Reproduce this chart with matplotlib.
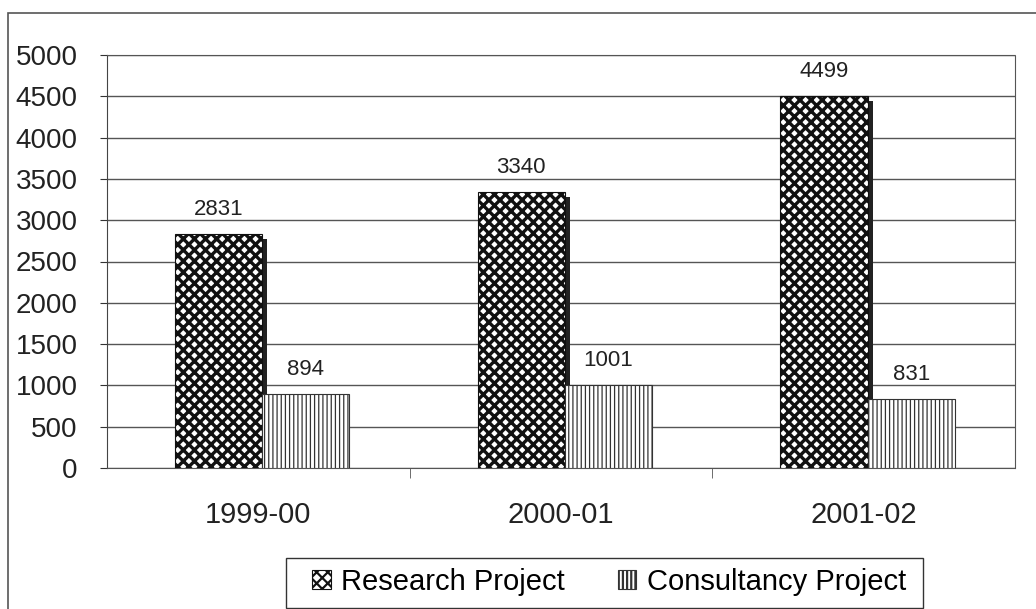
import numpy as np
import matplotlib as mpl
import matplotlib.pyplot as plt
from matplotlib.patches import Rectangle

plt.rcParams['font.family'] = ['Liberation Sans', 'DejaVu Sans']

years = ["1999-00", "2000-01", "2001-02"]
research = [2831, 3340, 4499]
consultancy = [894, 1001, 831]
series_names = ["Research Project", "Consultancy Project"]

fig = plt.figure(figsize=(10.36, 6.09), dpi=100)
ax = fig.add_axes([107 / 1036, 1 - 468 / 609, 908 / 1036, 413 / 609])

# outer chart frame (runs off right/bottom edge like the scan)
fig.patches.append(Rectangle((8 / 1036, -0.05), 1.2, 1 - 13 / 609 + 0.05,
                             transform=fig.transFigure, fill=False,
                             edgecolor='#555555', lw=1.2))

x = np.arange(len(years))
w = 0.288
shift = 0.013

# 3D-ish shadow on research bars
ax.bar(x + shift + 0.008, np.array(research) - 60, width=0.017, bottom=0,
       color='#222222', zorder=2)
with mpl.rc_context({'hatch.linewidth': 2.4}):
    b1 = ax.bar(x - w / 2 + shift, research, width=w, facecolor='white',
                edgecolor='#111111', hatch='xxx', lw=0.8, zorder=3,
                label=series_names[0])
with mpl.rc_context({'hatch.linewidth': 0.9}):
    b2 = ax.bar(x + w / 2 + shift, consultancy, width=w, facecolor='white',
                edgecolor='#333333', hatch='||||', lw=0.8, zorder=3,
                label=series_names[1])

for bars, vals in ((b1, research), (b2, consultancy)):
    for r, v in zip(bars, vals):
        ax.text(r.get_x() + r.get_width() / 2, v + 170, str(v),
                ha='center', va='bottom', fontsize=16, color='#222222')

ax.set_xlim(-0.5, 2.5)
ax.set_ylim(0, 5000)
ax.set_yticks(np.arange(0, 5001, 500))
ax.tick_params(axis='y', labelsize=20, length=5, colors='#333333',
               labelcolor='#222222', pad=16)
ax.set_xticks(x)
ax.set_xticklabels(years, fontsize=21, color='#222222')
ax.tick_params(axis='x', length=0, pad=24)
ax.set_xticks([0.5, 1.5], minor=True)
ax.tick_params(axis='x', which='minor', length=7, color='#555555')

ax.grid(axis='y', color='#555555', lw=1.0, zorder=1)
ax.set_axisbelow(True)
ax.spines['left'].set_color('#444444')
for s in ('top', 'right', 'bottom'):
    ax.spines[s].set_linestyle((0, (1, 1)))
    ax.spines[s].set_color('#555555')

# legend frame drawn by hand, entries centred inside it
fig.patches.append(Rectangle((286 / 1036, 1 - 608 / 609), 637 / 1036, 50 / 609,
                             transform=fig.transFigure, fill=False,
                             edgecolor='#333333', lw=1.0))
with mpl.rc_context({'hatch.linewidth': 1.6}):
    leg = fig.legend(handles=[b1, b2], loc='center',
                     bbox_to_anchor=(609 / 1036, 1 - 582 / 609), ncol=2,
                     fontsize=21, frameon=False,
                     handlelength=0.65, handleheight=0.65,
                     handletextpad=0.35, columnspacing=1.8, borderpad=0)

fig.savefig("out.png", dpi=100)
